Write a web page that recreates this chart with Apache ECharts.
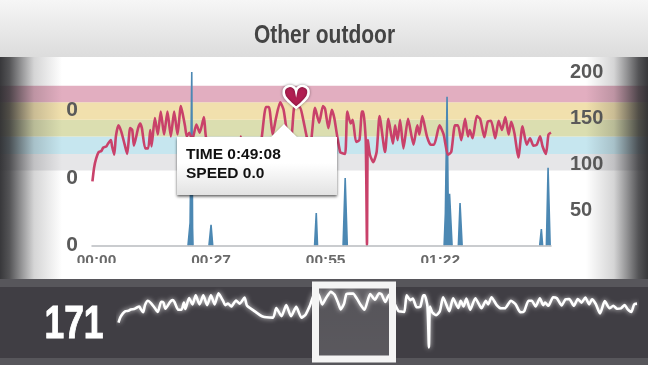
<!DOCTYPE html>
<html>
<head>
<meta charset="utf-8">
<style>html,body{margin:0;padding:0;background:#fff}#chart{width:648px;height:365px}</style>
<script src="https://cdn.jsdelivr.net/npm/echarts@6/dist/echarts.min.js"></script>
</head>
<body>
<div id="chart"></div>
<script>
// heart rate, minutes / bpm
var rateTimes = [0.1,0.5,1.0,1.6,2.2,2.7,3.4,3.8,4.5,4.8,5.3,5.7,6.3,7.0,7.8,8.4,9.1,9.6,10.0,11.0,11.5,11.9,12.7,13.4,13.9,14.2,15.0,15.7,16.4,17.2,18.0,18.8,19.6,20.4,21.2,21.7,22.2,22.6,23.2,23.9,24.9,25.7,26.7,27.2,28.5,30.5,32.7,33.4,34.5,35.5,36.5,37.6,38.7,39.6,40.5,41.5,42.2,43.1,43.9,44.9,45.7,46.5,47.0,47.7,48.2,48.9,49.6,50.4,51.2,52.0,53.2,54.2,55.1,55.6,56.4,57.2,57.8,58.5,59.2,59.6,60.4,60.9,61.7,62.2,63.0,63.8,64.4,64.7,65.3,65.6,65.8,66.3,67.1,67.9,68.6,69.9,70.7,71.8,72.3,72.9,73.5,74.3,75.4,76.7,77.6,78.1,78.8,79.9,80.8,81.6,82.9,83.9,84.9,85.7,86.6,87.3,88.1,89.0,89.7,90.1,90.8,91.8,92.6,93.6,94.4,95.2,96.2,97.0,97.8,98.6,99.4,100.0,100.8,101.7,102.7,103.7,104.5,105.3,106.1,106.9,107.5,108.3,108.9,109.5];
var rateValues = [81,96,106,113,114,118,119,122,126,119,110,130,142,135,121,111,139,137,120,139,144,139,117,117,137,119,150,132,157,132,157,130,157,132,163,153,141,130,134,126,143,134,151,129,116,98,95,122,99,130,99,125,95,104,129,162,162,132,150,167,159,134,118,134,161,162,162,148,130,117,161,145,163,160,139,159,150,130,113,112,111,157,144,148,124,126,157,157,126,12,126,110,102,113,152,113,149,122,142,126,148,117,149,121,142,132,152,130,121,121,142,132,110,113,142,142,126,149,130,137,128,152,149,129,146,147,128,147,137,151,132,146,133,107,141,121,128,120,121,130,119,111,132,134];

// speed spikes, null where the speed stays at zero
var speedTimes = [22.9,23.4,23.6,23.8,24.0,24.1,26,27.9,28.4,28.8,40,53.1,53.5,53.8,57,59.9,60.4,60.9,70,84.0,84.3,84.7,85.0,85.3,85.9,87,87.4,87.8,88.3,100,106.8,107.2,107.5,108,108.4,108.8,109.3];
var speedValues = [0,0.067,0.07,0.514,0.05,0,null,0,0.061,0,null,0,0.096,0,null,0,0.2,0,null,0,0.096,0.441,0.1,0.153,0,null,0,0.126,0,null,0,0.049,0,null,0,0.23,0];

var timeTicks = [0,27.33,54.67,82];
var timeLabels = ['00:00','00:27','00:55','01:22'];
var speedTicks = [0,0.2,0.4];
var rateTicks = [50,100,150,200];

// heart rate zones, bottom to top
var zoneEdges = [93,111,130,148,167,185];
var zoneColors = ['#e6e6e8','#c6e6ef','#dbdeb0','#f1e0ad','#e2aec0'];

var currentRate = '171';
var markedTime = 48.7, markedRate = 161;
var tipLines = 'TIME 0:49:08\nSPEED 0.0';

var zoneAreas = [];
for (var i = 0; i < zoneColors.length; i++) {
    zoneAreas.push([
        {yAxis: zoneEdges[i], itemStyle: {color: zoneColors[i], opacity: 1}},
        {yAxis: zoneEdges[i + 1]}
    ]);
}

function pairs(xs, ys) {
    var out = [];
    for (var i = 0; i < xs.length; i++) {
        out.push([xs[i], ys[i] === null ? '-' : ys[i]]);
    }
    return out;
}

// dark edge of the screen, fading towards the plot
function sideShade(x, width, darkOnLeft) {
    var dark = 'rgba(45,45,48,';
    return {
        type: 'rect', z: 100, silent: true,
        shape: {x: x, y: 57, width: width, height: 222},
        style: {fill: {
            type: 'linear', x: darkOnLeft ? 0 : 1, y: 0, x2: darkOnLeft ? 1 : 0, y2: 0,
            colorStops: [
                {offset: 0, color: dark + '0.95)'},
                {offset: 0.15, color: dark + '0.82)'},
                {offset: 0.35, color: dark + '0.5)'},
                {offset: 0.55, color: dark + '0.2)'},
                {offset: 1, color: dark + '0)'}
            ]
        }}
    };
}

var chart = echarts.init(document.getElementById('chart'), null, {renderer: 'canvas'});
chart.setOption({
    animation: false,
    backgroundColor: '#fff',
    textStyle: {fontFamily: '"Liberation Sans", Arial, sans-serif'},
    grid: [
        {left: 92, width: 459, top: 72, height: 173.5},   // speed
        {left: 92, width: 459, top: 72, height: 184},     // heart rate
        {left: 0, right: 0, top: 72, height: 184},        // zones, full width
        {left: 118, width: 519, top: 280, height: 71.7}   // overview strip
    ],
    xAxis: [
        {
            gridIndex: 0, type: 'value', min: 0, max: 109.5, z: 20, splitLine: {show: false},
            axisLine: {show: true, lineStyle: {color: '#b9bcc0', width: 1.5}},
            axisTick: {show: false},
            axisLabel: {
                customValues: timeTicks, margin: 7, padding: [0, 0, 0, 9],
                color: '#6a6a6a', fontSize: 15.5, fontWeight: 'bold',
                formatter: function (v) { return timeLabels[timeTicks.indexOf(v)]; }
            }
        },
        {gridIndex: 1, type: 'value', min: 0, max: 109.5, show: false},
        {gridIndex: 2, type: 'value', min: 0, max: 1, show: false},
        {gridIndex: 3, type: 'value', min: 0, max: 109.5, show: false}
    ],
    yAxis: [
        {
            gridIndex: 0, type: 'value', min: 0, max: 0.514, z: 20, splitLine: {show: false},
            axisLine: {show: false}, axisTick: {show: false},
            axisLabel: {
                customValues: speedTicks, margin: 14, padding: [4, 0, 0, 0], color: '#5a5a5a', fontSize: 21, fontWeight: 'bold',
                formatter: function (v) { return v.toFixed(0); }
            }
        },
        {
            gridIndex: 1, type: 'value', position: 'right', min: 0, max: 200, z: 20, splitLine: {show: false},
            axisLine: {show: false}, axisTick: {show: false},
            axisLabel: {customValues: rateTicks, margin: 19, padding: [2, 0, 0, 0], color: '#5a5a5a', fontSize: 20, fontWeight: 'bold'}
        },
        {gridIndex: 2, type: 'value', min: 0, max: 200, show: false},
        {gridIndex: 3, type: 'value', min: 0, max: 200, show: false}
    ],
    series: [
        {
            name: 'zones', type: 'line', xAxisIndex: 2, yAxisIndex: 2, z: 1, silent: true,
            data: [[0, 0]], symbol: 'none', lineStyle: {width: 0},
            markArea: {silent: true, data: zoneAreas}
        },
        {
            name: 'speed', type: 'line', xAxisIndex: 0, yAxisIndex: 0, z: 3,
            data: pairs(speedTimes, speedValues), symbol: 'none', connectNulls: false,
            lineStyle: {color: '#4c88b3', width: 1.6}, areaStyle: {color: '#4c88b3', opacity: 1}
        },
        {
            name: 'heart rate', type: 'line', xAxisIndex: 1, yAxisIndex: 1, z: 4,
            data: pairs(rateTimes, rateValues), symbol: 'none', smooth: 0.2,
            lineStyle: {color: '#c9416a', width: 2.6},
            markPoint: {
                silent: true, z: 6,
                symbol: 'path://M12 21C5 15 1 11 1 7A5.5 5.5 0 0 1 12 5 5.5 5.5 0 0 1 23 7C23 11 19 15 12 21Z',
                symbolSize: [25, 22], symbolOffset: [0, -11],
                itemStyle: {color: '#b11f52', borderColor: '#fff', borderWidth: 2.5, shadowBlur: 3, shadowColor: 'rgba(0,0,0,0.35)'},
                label: {show: false},
                data: [{coord: [markedTime, markedRate]}]
            }
        },
        {
            name: 'overview', type: 'line', xAxisIndex: 3, yAxisIndex: 3, z: 5,
            data: pairs(rateTimes, rateValues), symbol: 'none', smooth: 0.2,
            lineStyle: {color: '#fff', width: 2.6, shadowBlur: 5, shadowColor: 'rgba(255,255,255,0.8)'}
        }
    ],
    graphic: [
        {
            type: 'rect', z: 0, silent: true, shape: {x: 0, y: 0, width: 648, height: 57},
            style: {fill: {type: 'linear', x: 0, y: 0, x2: 0, y2: 1, colorStops: [{offset: 0, color: '#f6f6f6'}, {offset: 1, color: '#dcdcdc'}]}}
        },
        {
            type: 'text', z: 10, silent: true, x: 324.5, y: 36, scaleX: 0.84,
            style: {text: 'Other outdoor', fill: '#444', font: 'bold 25px "Liberation Sans"', align: 'center', verticalAlign: 'middle'}
        },
        // bottom panel
        {type: 'rect', z: 0, silent: true, shape: {x: 0, y: 279, width: 648, height: 86}, style: {fill: '#57565b'}},
        {type: 'rect', z: 0, silent: true, shape: {x: 0, y: 287, width: 648, height: 71}, style: {fill: '#403e44'}},
        {
            type: 'text', z: 10, silent: true, x: 74, y: 325, scaleX: 0.77,
            style: {text: currentRate, fill: '#fff', stroke: '#fff', lineWidth: 1, font: 'bold 46px "Liberation Sans"', align: 'center', verticalAlign: 'middle'}
        },
        // overview selection
        {
            type: 'rect', z: 60, silent: true, shape: {x: 315.5, y: 285, width: 77, height: 74},
            style: {fill: {type: 'linear', x: 0, y: 0, x2: 0, y2: 1, colorStops: [{offset: 0, color: 'rgba(255,255,255,0.22)'}, {offset: 0.3, color: 'rgba(255,255,255,0.12)'}, {offset: 1, color: 'rgba(255,255,255,0.14)'}]},
                stroke: '#f4f4f4', lineWidth: 7}
        },
        // cuts the time labels off at the bottom, as in the app
        {type: 'rect', z: 50, silent: true, shape: {x: 0, y: 263, width: 648, height: 16}, style: {fill: '#fff'}},
        sideShade(0, 62, true),
        sideShade(586, 62, false),
        // tooltip
        {
            type: 'polygon', z: 110, silent: true,
            shape: {points: [[177, 137], [271, 137], [284, 124], [297, 137], [337, 137], [337, 195], [177, 195]]},
            style: {
                fill: {type: 'linear', x: 0, y: 0, x2: 0, y2: 1, colorStops: [{offset: 0, color: '#fff'}, {offset: 0.55, color: '#fff'}, {offset: 1, color: '#e2e2e2'}]},
                shadowBlur: 3, shadowOffsetY: 1.5, shadowColor: 'rgba(0,0,0,0.65)'
            }
        },
        {
            type: 'text', z: 111, silent: true, x: 186, y: 164,
            style: {text: tipLines, fill: '#111', font: 'bold 15.5px "Liberation Sans"', lineHeight: 19, verticalAlign: 'middle', align: 'left'}
        }
    ]
});
</script>
</body>
</html>
